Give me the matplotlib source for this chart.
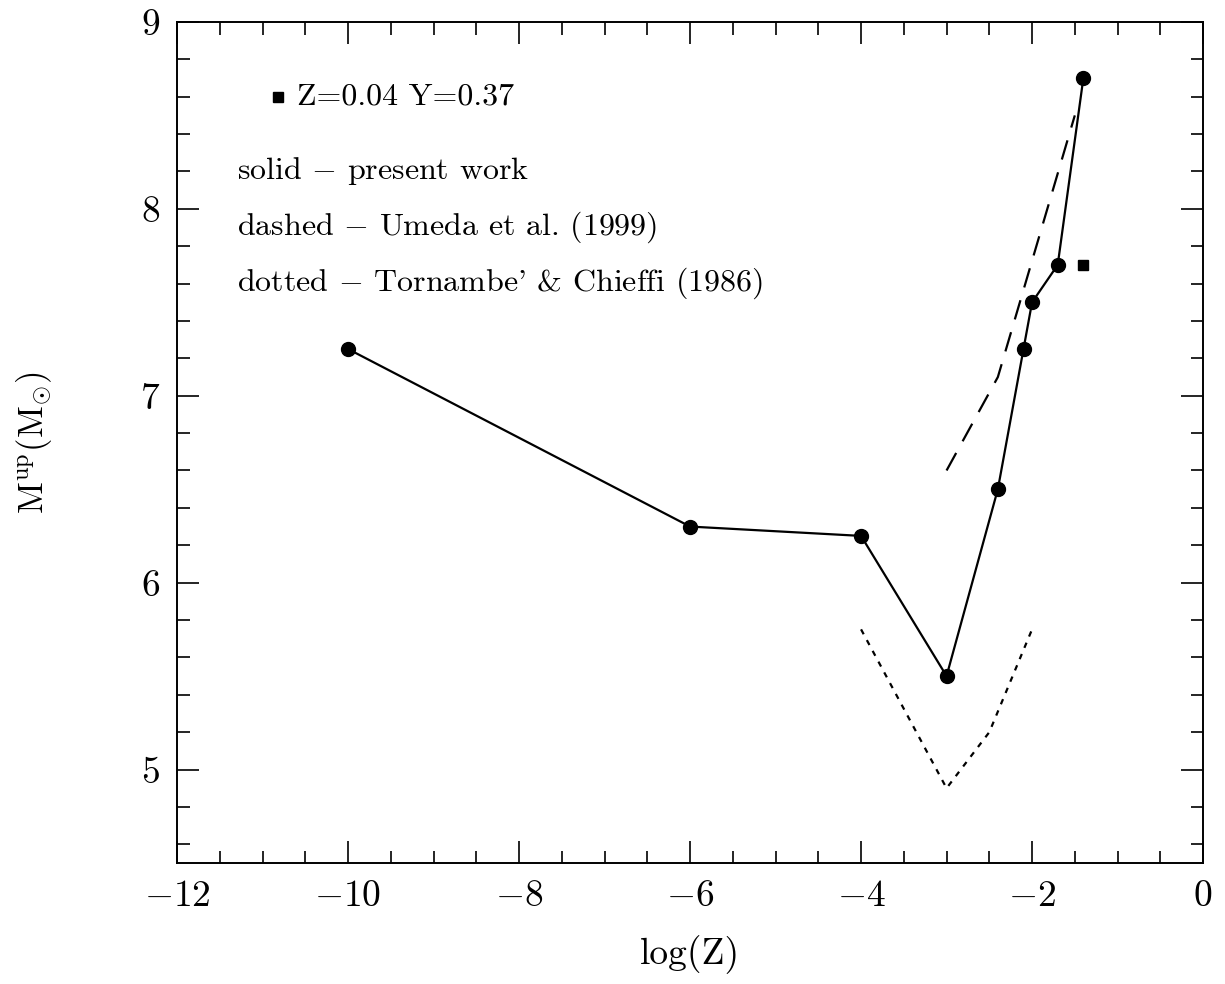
import matplotlib
matplotlib.use("Agg")
import matplotlib.pyplot as plt
from matplotlib.ticker import MultipleLocator

plt.rcParams['font.family'] = ['cmr10', 'DejaVu Serif']
plt.rcParams['mathtext.fontset'] = 'cm'
plt.rcParams['axes.formatter.use_mathtext'] = True
plt.rcParams['axes.unicode_minus'] = True

# present work (solid)
logz = [-10, -6, -4, -3, -2.4, -2.1, -2.0, -1.7, -1.4]
mup = [7.25, 6.3, 6.25, 5.5, 6.5, 7.25, 7.5, 7.7, 8.7]

# Umeda et al. (1999), dashed
logz_umeda = [-3.0, -2.4, -1.5]
mup_umeda = [6.6, 7.1, 8.5]

# Tornambe' & Chieffi (1986), dotted
logz_tc = [-4.0, -3.0, -2.5, -2.0]
mup_tc = [5.75, 4.9, 5.2, 5.75]

# Z=0.04 Y=0.37 model
logz_sq = [-1.4]
mup_sq = [7.7]

fig = plt.figure(figsize=(12.25, 9.84), dpi=100)
ax = fig.add_axes([0.1445, 0.123, 0.8376, 0.8547])

ax.plot(logz, mup, color="black", linestyle="-", linewidth=1.6,
        marker="o", markersize=10)
ax.plot(logz_umeda, mup_umeda, color="black", linewidth=1.6,
        linestyle=(0, (9, 6)))
ax.plot(logz_tc, mup_tc, color="black", linewidth=1.6,
        linestyle=(0, (2.5, 3)))
ax.plot(logz_sq, mup_sq, color="black", linestyle="", marker="s", markersize=7)

# legend text
ax.plot([-10.82], [8.6], color="black", linestyle="", marker="s", markersize=7)
ax.text(-10.6, 8.6, "Z=0.04 Y=0.37", fontsize=23, va="center")
ax.text(-11.3, 8.2, r"solid $-$ present work", fontsize=23, va="center")
ax.text(-11.3, 7.9, r"dashed $-$ Umeda et al. (1999)", fontsize=23, va="center")
ax.text(-11.3, 7.6, r"dotted $-$ Tornambe' & Chieffi (1986)", fontsize=23, va="center")

ax.set_xlim(-12, 0)
ax.set_ylim(4.5, 9)
ax.xaxis.set_major_locator(MultipleLocator(2))
ax.xaxis.set_minor_locator(MultipleLocator(0.5))
ax.yaxis.set_major_locator(MultipleLocator(1))
ax.yaxis.set_minor_locator(MultipleLocator(0.2))
ax.tick_params(which="both", direction="in", top=True, right=True, width=1.2)
ax.tick_params(which="major", length=16, labelsize=27, pad=12)
ax.tick_params(which="minor", length=9)
for s in ax.spines.values():
    s.set_linewidth(1.4)

ax.set_xlabel("log(Z)", fontsize=27, labelpad=16)
ax.set_ylabel(r"$\mathrm{M^{up}(M_{\odot})}$", fontsize=25, labelpad=62)

fig.savefig("out.png", dpi=100)
